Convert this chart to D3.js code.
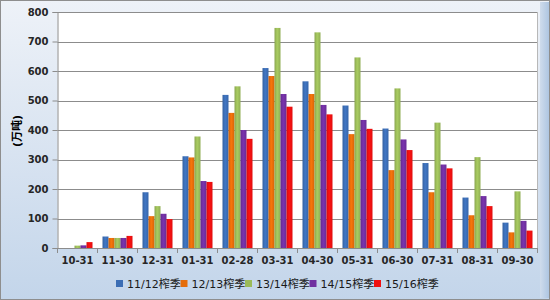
<!DOCTYPE html>
<html>
<head>
<meta charset="utf-8">
<script src="https://cdn.jsdelivr.net/npm/d3@7"></script>
<style>
  body { margin: 0; padding: 0; background: #fff; }
  svg { display: block; }
  text { font-family: "DejaVu Sans", "Noto Sans CJK SC", sans-serif; }
</style>
</head>
<body>
<svg id="chart" width="550" height="300"></svg>
<script>
// dates (end of month)
const categories = ["10-31", "11-30", "12-31", "01-31", "02-28", "03-31", "04-30", "05-31", "06-30", "07-31", "08-31", "09-30"];
const seasons = ["11/12榨季", "12/13榨季", "13/14榨季", "14/15榨季", "15/16榨季"];
const colors = ["#3b6db4", "#e46c0a", "#9bbb59", "#7030a0", "#f01010"];

// 万吨, one array per season
const s1112 = [0, 39, 189, 311, 519, 610, 565, 483, 405, 288, 171, 86];
const s1213 = [0, 34, 108, 307, 458, 583, 522, 386, 264, 189, 111, 53];
const s1314 = [8, 34, 142, 378, 548, 746, 731, 646, 541, 425, 308, 192];
const s1415 = [9, 34, 116, 227, 400, 522, 485, 434, 368, 283, 176, 92];
const s1516 = [20, 41, 98, 224, 370, 479, 453, 404, 332, 270, 142, 59];
const series = [s1112, s1213, s1314, s1415, s1516];

const yTicks = [0, 100, 200, 300, 400, 500, 600, 700, 800];

const W = 550, H = 300;
const plot = { left: 57.5, right: 537.5, top: 12, bottom: 248 };

const svg = d3.select("#chart");
const defs = svg.append("defs");

// chart background gradient
const bg = defs.append("linearGradient").attr("id", "bg").attr("x1", 0).attr("y1", 0).attr("x2", 0).attr("y2", 1);
bg.append("stop").attr("offset", "0%").attr("stop-color", "#eef2f8");
bg.append("stop").attr("offset", "100%").attr("stop-color", "#c3d5ea");

const side = defs.append("linearGradient").attr("id", "side").attr("x1", 0).attr("y1", 0).attr("x2", 1).attr("y2", 0);
side.append("stop").attr("offset", "0%").attr("stop-color", "#cfdcec");
side.append("stop").attr("offset", "100%").attr("stop-color", "#aac3e0");

// bar shading
colors.forEach((c, i) => {
    const g = defs.append("linearGradient").attr("id", "bar" + i).attr("x1", 0).attr("y1", 0).attr("x2", 1).attr("y2", 0);
    const base = d3.color(c);
    g.append("stop").attr("offset", "0%").attr("stop-color", base.darker(0.35));
    g.append("stop").attr("offset", "45%").attr("stop-color", base.brighter(0.25));
    g.append("stop").attr("offset", "100%").attr("stop-color", base.darker(0.2));
});

svg.append("rect").attr("x", 0).attr("y", 0).attr("width", W).attr("height", H).attr("fill", "url(#bg)");
svg.append("rect").attr("x", 540).attr("y", 2).attr("width", 10).attr("height", H - 4).attr("fill", "url(#side)");
svg.append("rect").attr("x", 0.5).attr("y", 0.5).attr("width", W - 1).attr("height", H - 1)
    .attr("fill", "none").attr("stroke", "#8e8e8e").attr("stroke-width", 1);

// plot area
svg.append("rect")
    .attr("x", plot.left).attr("y", plot.top)
    .attr("width", plot.right - plot.left).attr("height", plot.bottom - plot.top)
    .attr("fill", "#ffffff");

const x0 = d3.scaleBand().domain(categories).range([plot.left, plot.right]).paddingInner(0.25).paddingOuter(0.125);
const x1 = d3.scaleBand().domain(d3.range(seasons.length)).range([0, x0.bandwidth()]);
const y = d3.scaleLinear().domain([0, 800]).range([plot.bottom, plot.top]);

// gridlines
svg.append("g")
    .selectAll("line")
    .data(yTicks.slice(1))
    .join("line")
    .attr("x1", plot.left).attr("x2", plot.right)
    .attr("y1", d => Math.round(y(d)) + 0.5).attr("y2", d => Math.round(y(d)) + 0.5)
    .attr("stroke", "#8c8c8c").attr("stroke-width", 1);

svg.append("line")
    .attr("x1", plot.right).attr("x2", plot.right).attr("y1", plot.top).attr("y2", plot.bottom)
    .attr("stroke", "#b8b8b8");

// bars
const groups = svg.append("g")
    .selectAll("g")
    .data(categories)
    .join("g")
    .attr("transform", d => `translate(${x0(d)},0)`);

groups.selectAll("rect")
    .data((d, ci) => series.map((s, si) => ({ si, v: s[ci] })))
    .join("rect")
    .attr("x", d => x1(d.si))
    .attr("width", x1.bandwidth())
    .attr("y", d => y(d.v))
    .attr("height", d => y(0) - y(d.v))
    .attr("fill", d => `url(#bar${d.si})`);

// y axis
const yAxis = svg.append("g")
    .attr("transform", `translate(${plot.left},0)`)
    .call(d3.axisLeft(y).tickValues(yTicks).tickSize(5).tickPadding(4));
yAxis.select(".domain").attr("stroke", "#8c8c8c");
yAxis.selectAll(".tick line").attr("stroke", "#8c8c8c");
yAxis.selectAll("text").attr("font-size", 10).attr("fill", "#262626").attr("font-weight", "bold")
    .attr("font-family", "DejaVu Sans");

// x axis
const xTickScale = d3.scaleLinear().domain([0, categories.length]).range([plot.left, plot.right]);
const xAxis = svg.append("g").attr("transform", `translate(0,${plot.bottom})`);
xAxis.append("line").attr("x1", plot.left).attr("x2", plot.right).attr("y1", 0.5).attr("y2", 0.5).attr("stroke", "#8c8c8c");
xAxis.selectAll("line.tk")
    .data(d3.range(categories.length + 1))
    .join("line").attr("class", "tk")
    .attr("x1", d => xTickScale(d)).attr("x2", d => xTickScale(d))
    .attr("y1", 0).attr("y2", 5)
    .attr("stroke", "#8c8c8c");
xAxis.selectAll("text")
    .data(categories)
    .join("text")
    .attr("x", d => x0(d) + x0.bandwidth() / 2)
    .attr("y", 16)
    .attr("text-anchor", "middle")
    .attr("font-size", 10)
    .attr("font-weight", "bold")
    .attr("fill", "#262626")
    .text(d => d);

// y title
svg.append("text")
    .attr("transform", "translate(21,131) rotate(-90)")
    .attr("text-anchor", "middle")
    .attr("font-size", 11)
    .attr("font-weight", "bold")
    .attr("fill", "#000")
    .attr("font-family", "Noto Sans CJK SC")
    .text("(万吨)");

// legend
const legendX = d3.scaleLinear().domain([0, seasons.length]).range([116, 116 + 64.5 * seasons.length]);
const legend = svg.append("g")
    .selectAll("g")
    .data(seasons)
    .join("g")
    .attr("transform", (d, i) => `translate(${legendX(i)},280)`);
legend.append("rect").attr("width", 7).attr("height", 7).attr("fill", (d, i) => colors[i]);
legend.append("text")
    .attr("x", 11).attr("y", 7.5)
    .attr("font-size", 11)
    .attr("fill", "#1a1a1a")
    .attr("font-family", "DejaVu Sans, Noto Sans CJK SC")
    .text(d => d);
</script>
</body>
</html>
